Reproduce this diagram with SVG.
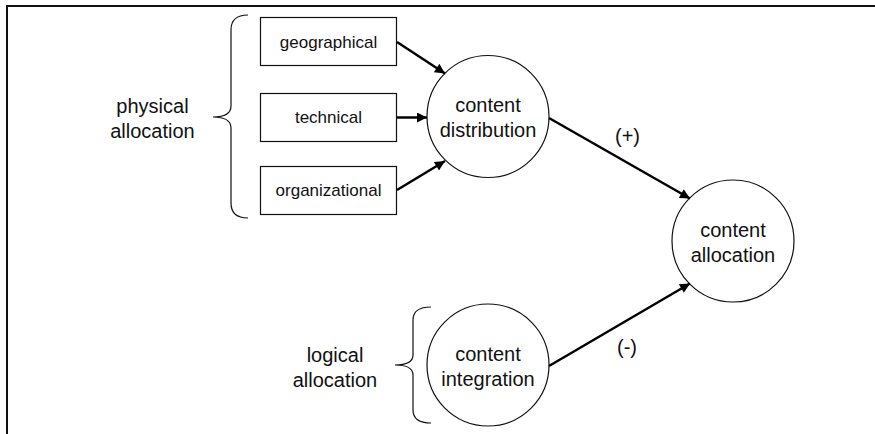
<svg xmlns="http://www.w3.org/2000/svg" width="875" height="434" viewBox="0 0 875 434">
<style>
  text { font-family: "Liberation Sans", Arial, sans-serif; fill: #111; text-anchor: middle; }
  .big { font-size: 20px; }
  .small { font-size: 17px; }
  .box { fill: #fff; stroke: #111; stroke-width: 1.2; }
  .circ { fill: #fff; stroke: #111; stroke-width: 1.2; }
  .brace { fill: none; stroke: #111; stroke-width: 1.2; }
  .edge { fill: none; stroke: #000; stroke-width: 2.5; }
</style>
<defs>
  <marker id="arr" viewBox="0 0 10 10" refX="10" refY="5" markerWidth="5" markerHeight="4" markerUnits="strokeWidth" orient="auto">
    <path d="M0,0 L10,5 L0,10 z" fill="#000"/>
  </marker>
</defs>
<rect width="875" height="434" fill="#fff"/>
<path d="M7,434 V6 H875" fill="none" stroke="#111" stroke-width="2"/>

<g id="physical-allocation">
  <path class="brace" d="M248,15 Q231,15 231,30 V106 Q231,117 213,117 Q231,117 231,128 V203 Q231,218 248,218"/>
  <text class="big" x="152.5" y="113">physical</text>
  <text class="big" x="152.5" y="138">allocation</text>
</g>
<g id="logical-allocation">
  <path class="brace" d="M431,307 Q413,307 413,320 V355 Q413,365 395,365 Q413,365 413,375 V410 Q413,423 431,423"/>
  <text class="big" x="335" y="362">logical</text>
  <text class="big" x="335" y="387">allocation</text>
</g>

<g id="geographical">
  <rect class="box" x="260.5" y="17.5" width="136" height="48"/>
  <text class="small" x="328.5" y="48">geographical</text>
</g>
<g id="technical">
  <rect class="box" x="260.5" y="93.5" width="136" height="48"/>
  <text class="small" x="328.5" y="123">technical</text>
</g>
<g id="organizational">
  <rect class="box" x="260.5" y="166.5" width="136" height="48"/>
  <text class="small" x="328.5" y="196">organizational</text>
</g>

<g id="content-distribution">
  <circle class="circ" cx="488" cy="116.5" r="61"/>
  <text class="big" x="488" y="112">content</text>
  <text class="big" x="488" y="137">distribution</text>
</g>
<g id="content-allocation">
  <circle class="circ" cx="733" cy="241" r="61"/>
  <text class="big" x="733" y="237">content</text>
  <text class="big" x="733" y="262">allocation</text>
</g>
<g id="content-integration">
  <circle class="circ" cx="488" cy="365" r="61"/>
  <text class="big" x="488" y="361">content</text>
  <text class="big" x="488" y="386">integration</text>
</g>

<g id="connectors">
  <line class="edge" x1="397" y1="42" x2="445" y2="73.5" marker-end="url(#arr)"/>
  <line class="edge" x1="397" y1="117.5" x2="427" y2="117.5" marker-end="url(#arr)"/>
  <line class="edge" x1="397" y1="190" x2="445" y2="161" marker-end="url(#arr)"/>
  <line class="edge" x1="549" y1="118" x2="690" y2="198.5" marker-end="url(#arr)"/>
  <line class="edge" x1="549" y1="366" x2="690" y2="283.5" marker-end="url(#arr)"/>
  <text class="big" x="627.5" y="143">(+)</text>
  <text class="big" x="627" y="354">(-)</text>
</g>
</svg>
